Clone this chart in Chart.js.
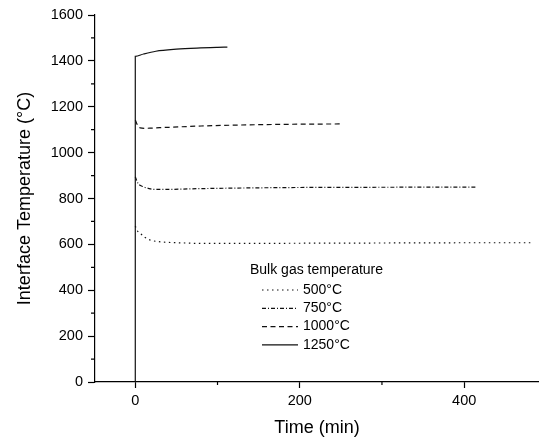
<!DOCTYPE html>
<html>
<head>
<meta charset="utf-8">
<script src="https://cdn.jsdelivr.net/npm/chart.js@4"></script>
<style>
    html, body { margin: 0; padding: 0; background: #fff; }
    #wrap { width: 539px; height: 442px; }
</style>
</head>
<body>
<div id="wrap"><canvas id="tempChart" width="539" height="442"></canvas></div>
<script>
// Interface temperature vs. time for each bulk gas temperature
var seriesLabels = ['500°C', '750°C', '1000°C', '1250°C'];

var time500 = [0, 2, 6, 12, 18, 28, 38, 60, 80, 120, 200, 300, 400, 484];
var temp500 = [680, 662, 648, 630, 619, 612, 609, 606, 604, 604, 605, 606, 607, 607];

var time750 = [0, 3, 10, 16, 22, 40, 79, 136, 200, 300, 416];
var temp750 = [895, 868, 851, 844, 840, 840, 843, 846, 848, 849, 850];

var time1000 = [0, 3, 6, 12, 20, 38, 80, 136, 200, 249];
var temp1000 = [1142, 1118, 1108, 1106, 1107, 1110, 1116, 1121, 1124, 1125];

// this run starts from ambient, the jump at t=0 is the vertical rise
var time1250 = [0, 0, 10, 25, 50, 75, 100, 112];
var temp1250 = [0, 1420, 1430, 1442, 1451, 1456, 1459, 1460];

var xMinorTicks = [100, 300];
var yMinorTicks = [100, 300, 500, 700, 900, 1100, 1300, 1500];

var legendTitle = 'Bulk gas temperature';

var dashes = [[1.5, 3.5], [4, 2, 1, 2], [5, 3.5], []];

function toPoints(xs, ys) {
    return xs.map(function (x, i) { return { x: x, y: ys[i] }; });
}

var allSeries = [
    toPoints(time500, temp500),
    toPoints(time750, temp750),
    toPoints(time1000, temp1000),
    toPoints(time1250, temp1250)
];

var datasets = allSeries.map(function (pts, i) {
    return {
        label: seriesLabels[i],
        data: pts,
        borderColor: '#111',
        borderWidth: 1.2,
        borderDash: dashes[i],
        pointRadius: 0,
        cubicInterpolationMode: 'monotone',
        fill: false,
        order: allSeries.length - i
    };
});

var FONT = '"Liberation Sans", Arial, sans-serif';

// short ticks between the labelled ones
var minorTicks = {
    id: 'minorTicks',
    afterDraw: function (chart) {
        var ctx = chart.ctx, xs = chart.scales.x, ys = chart.scales.y;
        ctx.save();
        ctx.strokeStyle = '#000';
        ctx.lineWidth = 1.2;
        ctx.beginPath();
        xMinorTicks.forEach(function (v) {
            var px = xs.getPixelForValue(v);
            ctx.moveTo(px, xs.top);
            ctx.lineTo(px, xs.top + 3);
        });
        yMinorTicks.forEach(function (v) {
            var py = ys.getPixelForValue(v);
            ctx.moveTo(ys.right, py);
            ctx.lineTo(ys.right - 4, py);
        });
        ctx.stroke();
        ctx.restore();
    }
};

// legend box inside the plot
var insideLegend = {
    id: 'insideLegend',
    afterDraw: function (chart) {
        var ctx = chart.ctx, area = chart.chartArea;
        var x0 = area.left + 155, y0 = area.top + 255;
        ctx.save();
        ctx.fillStyle = '#000';
        ctx.font = '14px ' + FONT;
        ctx.textBaseline = 'middle';
        ctx.textAlign = 'left';
        ctx.fillText(legendTitle, x0, y0);
        chart.data.datasets.forEach(function (ds, i) {
            var y = y0 + 20 + i * 18.3;
            ctx.strokeStyle = ds.borderColor;
            ctx.lineWidth = ds.borderWidth;
            ctx.setLineDash(ds.borderDash);
            ctx.beginPath();
            ctx.moveTo(x0 + 12, y);
            ctx.lineTo(x0 + 48, y);
            ctx.stroke();
            ctx.setLineDash([]);
            ctx.fillText(ds.label, x0 + 53, y);
        });
        ctx.restore();
    }
};

function plain(v) { return String(v); }

new Chart(document.getElementById('tempChart'), {
    type: 'line',
    data: { datasets: datasets },
    options: {
        responsive: false,
        animation: false,
        layout: { padding: { top: 15, right: 0, left: 0, bottom: 0 } },
        plugins: { legend: { display: false }, tooltip: { enabled: false } },
        scales: {
            x: {
                type: 'linear',
                min: -49,
                max: 491,
                border: { color: '#000', width: 1.2 },
                grid: { drawOnChartArea: false, tickLength: 6, tickColor: '#000', tickWidth: 1.2 },
                ticks: {
                    stepSize: 200, includeBounds: false, color: '#000', callback: plain,
                    font: { family: FONT, size: 14.5 }, padding: 4, maxRotation: 0
                },
                title: {
                    display: true, text: 'Time (min)', color: '#000',
                    font: { family: FONT, size: 18 }, padding: { top: 0, bottom: 3 }
                },
                afterFit: function (s) { s.height = 60; }
            },
            y: {
                min: 0,
                max: 1600,
                border: { color: '#000', width: 1.2 },
                grid: { drawOnChartArea: false, tickLength: 7, tickColor: '#000', tickWidth: 1.2 },
                ticks: {
                    stepSize: 200, color: '#000', callback: plain,
                    font: { family: FONT, size: 14.5 }, padding: 5
                },
                title: {
                    display: true, text: 'Interface Temperature (°C)', color: '#000',
                    font: { family: FONT, size: 18 }, padding: { top: 14, bottom: 0 }
                },
                afterFit: function (s) { s.width = 95; }
            }
        }
    },
    plugins: [minorTicks, insideLegend]
});
</script>
</body>
</html>
